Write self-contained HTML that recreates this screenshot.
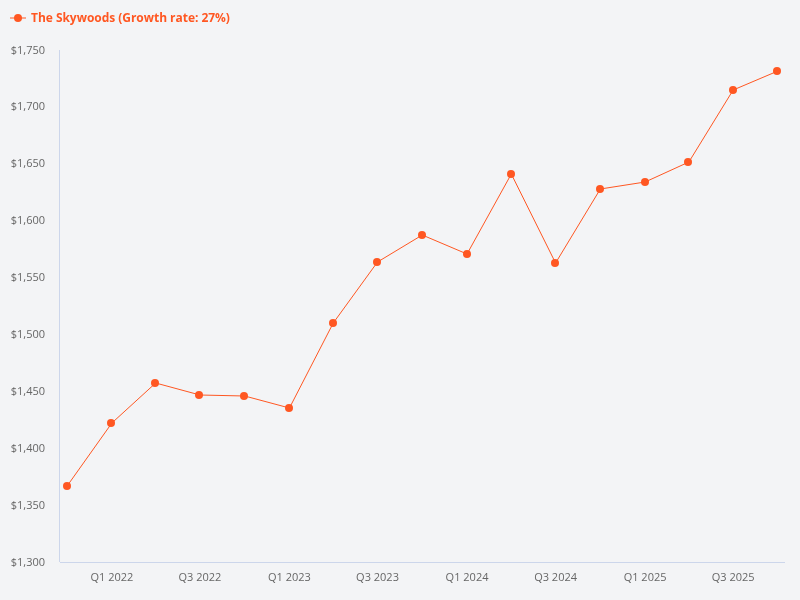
<!DOCTYPE html>
<html><head><meta charset="utf-8"><style>
html,body{margin:0;padding:0;background:#f3f4f6;width:800px;height:600px;overflow:hidden}
svg{display:block;will-change:transform;font-family:"Open Sans","Liberation Sans",sans-serif}
</style></head><body>
<svg width="800" height="600" viewBox="0 0 800 600" xmlns="http://www.w3.org/2000/svg">
<rect width="800" height="600" fill="#f3f4f6"/>
<g>
<path d="M10 18 H26" stroke="#ff5722" stroke-width="1"/>
<circle cx="18" cy="18" r="4" fill="#ff5722"/>
<text x="31" y="22" font-size="12" font-weight="bold" fill="#ff5722" textLength="198.9" lengthAdjust="spacing">The Skywoods (Growth rate: 27%)</text>
</g>
<path d="M59.5 50 V562" stroke="#ccd6eb" stroke-width="1" fill="none"/>
<path d="M60 562.5 H785" stroke="#ccd6eb" stroke-width="1" fill="none"/>
<g font-size="11" fill="#666666">
<text x="45" y="565.5" text-anchor="end">$1,300</text>
<text x="45" y="508.6" text-anchor="end">$1,350</text>
<text x="45" y="451.7" text-anchor="end">$1,400</text>
<text x="45" y="394.8" text-anchor="end">$1,450</text>
<text x="45" y="337.9" text-anchor="end">$1,500</text>
<text x="45" y="281.1" text-anchor="end">$1,550</text>
<text x="45" y="224.2" text-anchor="end">$1,600</text>
<text x="45" y="167.3" text-anchor="end">$1,650</text>
<text x="45" y="110.4" text-anchor="end">$1,700</text>
<text x="45" y="53.5" text-anchor="end">$1,750</text>
<text x="111.88" y="581" text-anchor="middle">Q1 2022</text>
<text x="199.94" y="581" text-anchor="middle">Q3 2022</text>
<text x="289.46" y="581" text-anchor="middle">Q1 2023</text>
<text x="377.52" y="581" text-anchor="middle">Q3 2023</text>
<text x="467.04" y="581" text-anchor="middle">Q1 2024</text>
<text x="555.58" y="581" text-anchor="middle">Q3 2024</text>
<text x="645.1" y="581" text-anchor="middle">Q1 2025</text>
<text x="733.16" y="581" text-anchor="middle">Q3 2025</text>
</g>
<polyline points="67.12,486 111.88,423 155.67,383 199.94,395 244.70,396 289.46,408 333.25,323 377.52,262 422.28,235 467.04,254 511.31,174 555.58,263 600.34,189 645.10,182 688.89,162 733.16,90 777.92,71" fill="none" stroke="#ff5722" stroke-width="1" stroke-linejoin="round" stroke-linecap="round"/>
<g fill="#ff5722">
<circle cx="67.00" cy="486" r="4"/>
<circle cx="111.00" cy="423" r="4"/>
<circle cx="155.00" cy="383" r="4"/>
<circle cx="199.00" cy="395" r="4"/>
<circle cx="244.00" cy="396" r="4"/>
<circle cx="289.00" cy="408" r="4"/>
<circle cx="333.00" cy="323" r="4"/>
<circle cx="377.00" cy="262" r="4"/>
<circle cx="422.00" cy="235" r="4"/>
<circle cx="467.00" cy="254" r="4"/>
<circle cx="511.00" cy="174" r="4"/>
<circle cx="555.00" cy="263" r="4"/>
<circle cx="600.00" cy="189" r="4"/>
<circle cx="645.00" cy="182" r="4"/>
<circle cx="688.00" cy="162" r="4"/>
<circle cx="733.00" cy="90" r="4"/>
<circle cx="777.00" cy="71" r="4"/>
</g>
</svg>
</body></html>
